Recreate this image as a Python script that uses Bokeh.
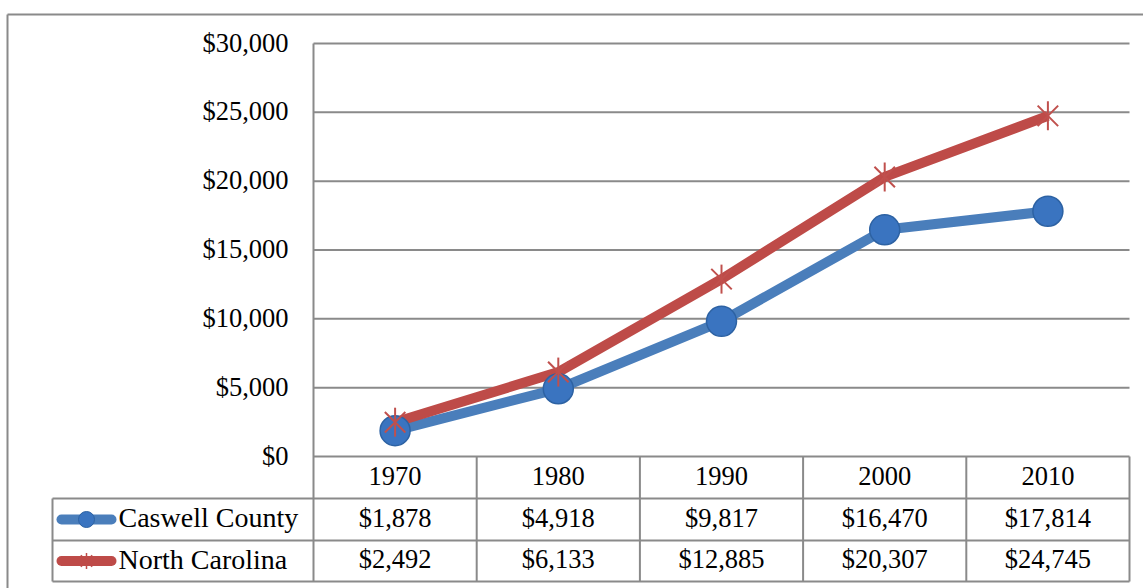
from bokeh.plotting import figure
from bokeh.models import Range1d
from bokeh.core.properties import value
from bokeh.embed import file_html
from bokeh.resources import INLINE
import math

# ---- data ----
years = ["1970", "1980", "1990", "2000", "2010"]
caswell = [1878, 4918, 9817, 16470, 17814]
north_carolina = [2492, 6133, 12885, 20307, 24745]
series_names = ["Caswell County", "North Carolina"]
y_ticks = [0, 5000, 10000, 15000, 20000, 25000, 30000]

# ---- layout (picture pixels) ----
PAGE_L, PAGE_T = 0, 0
W, H = 1143, 588
PLOT_L, PLOT_R = 313, 1129
Y_ZERO, Y_TOP = 456, 43
ROW1, ROW2, TBL_B = 498, 540, 581
TBL_L = 52
n = len(years)
colw = (PLOT_R - PLOT_L) / n
px_per_val = (Y_ZERO - Y_TOP) / 30000.0

def to_u(px):
    return (px - PLOT_L) / colw - 0.5

def to_v(py):
    return (Y_ZERO - py) / px_per_val

FONT = value("Liberation Serif")
FS = "26.5px"
FS_LBL = "28px"
GRID = "#8a8a8a"
BLUE = "#4a7ebb"
RED = "#be4b48"

p = figure(width=W, height=H, output_backend="svg", toolbar_location=None,
           x_range=Range1d(to_u(PAGE_L), to_u(PAGE_L + W)),
           y_range=Range1d(to_v(PAGE_T + H), to_v(PAGE_T)),
           x_axis_type=None, y_axis_type=None, min_border=0)
p.extra_x_ranges = {"px": Range1d(PAGE_L, PAGE_L + W)}
p.extra_y_ranges = {"px": Range1d(PAGE_T + H, PAGE_T)}
p.grid.visible = False
p.outline_line_color = None
p.background_fill_color = "white"
p.border_fill_color = "white"

# outer border
p.segment(x0=[7, 7], y0=[14, 14], x1=[7, PAGE_L + W], y1=[PAGE_T + H, 14],
          x_range_name="px", y_range_name="px", line_color=GRID, line_width=2)

# grid lines
xs = list(range(n))
p.segment(x0=[-0.5] * len(y_ticks), y0=y_ticks, x1=[n - 0.5] * len(y_ticks), y1=y_ticks,
          line_color=GRID, line_width=2)
# y tick labels
p.text(x=[to_u(288)] * len(y_ticks), y=y_ticks, y_offset=-1,
       text=["${:,}".format(t) for t in y_ticks],
       text_align="right", text_baseline="middle",
       text_font=FONT, text_font_size=FS, text_color="#000000")

# table lines
p.segment(x0=[-0.5], y0=[Y_TOP], x1=[-0.5], y1=[TBL_B], y_range_name="px",
          line_color=GRID, line_width=2)
p.segment(x0=[i + 0.5 for i in range(n)], y0=[Y_ZERO] * n,
          x1=[i + 0.5 for i in range(n)], y1=[TBL_B] * n, y_range_name="px",
          line_color=GRID, line_width=2)
p.segment(x0=[TBL_L], y0=[ROW1], x1=[TBL_L], y1=[TBL_B],
          x_range_name="px", y_range_name="px", line_color=GRID, line_width=2)
p.segment(x0=[TBL_L] * 3, y0=[ROW1, ROW2, TBL_B], x1=[PLOT_R] * 3, y1=[ROW1, ROW2, TBL_B],
          x_range_name="px", y_range_name="px", line_color=GRID, line_width=2)

# header & values
p.text(x=xs, y=[(Y_ZERO + ROW1) / 2 - 2] * n, text=years, y_range_name="px",
       text_align="center", text_baseline="middle",
       text_font=FONT, text_font_size=FS, text_color="#000000")
for vals, yc in ((caswell, (ROW1 + ROW2) / 2 - 2), (north_carolina, (ROW2 + TBL_B) / 2 - 2)):
    p.text(x=xs, y=[yc] * n, text=["${:,}".format(v) for v in vals], y_range_name="px",
           text_align="center", text_baseline="middle",
           text_font=FONT, text_font_size=FS, text_color="#000000")

# row labels with legend keys
for name, yc, col in ((series_names[0], (ROW1 + ROW2) / 2, BLUE),
                      (series_names[1], (ROW2 + TBL_B) / 2, RED)):
    p.line(x=[61, 111], y=[yc, yc], x_range_name="px", y_range_name="px",
           line_color=col, line_width=10, line_cap="round")
    p.text(x=[118], y=[yc - 2], text=[name], x_range_name="px", y_range_name="px",
           text_align="left", text_baseline="middle",
           text_font=FONT, text_font_size=FS_LBL, text_color="#000000")
p.scatter(x=[86], y=[(ROW1 + ROW2) / 2], x_range_name="px", y_range_name="px",
          marker="circle", size=16, fill_color="#3a74c0", line_color="#2d62a3", line_width=1)
p.scatter(x=[86], y=[(ROW2 + TBL_B) / 2], x_range_name="px", y_range_name="px",
          marker="x", size=16, line_color=RED, line_width=1.5)
p.scatter(x=[86], y=[(ROW2 + TBL_B) / 2], x_range_name="px", y_range_name="px",
          marker="dash", angle=math.pi / 2, size=16, line_color=RED, line_width=1.5)

# data series
p.line(x=xs, y=caswell, line_color=BLUE, line_width=10, line_join="round")
p.line(x=xs, y=north_carolina, line_color=RED, line_width=10, line_join="round")
p.scatter(x=xs, y=caswell, marker="circle", size=30, fill_color="#3a74c0",
          line_color="#2d62a3", line_width=1.5)
p.scatter(x=xs, y=north_carolina, marker="x", size=29, line_color="#c0504d", line_width=2)
p.scatter(x=xs, y=north_carolina, marker="dash", angle=math.pi / 2, size=29,
          line_color="#c0504d", line_width=2)

open("out.html", "w").write(file_html(p, INLINE))
